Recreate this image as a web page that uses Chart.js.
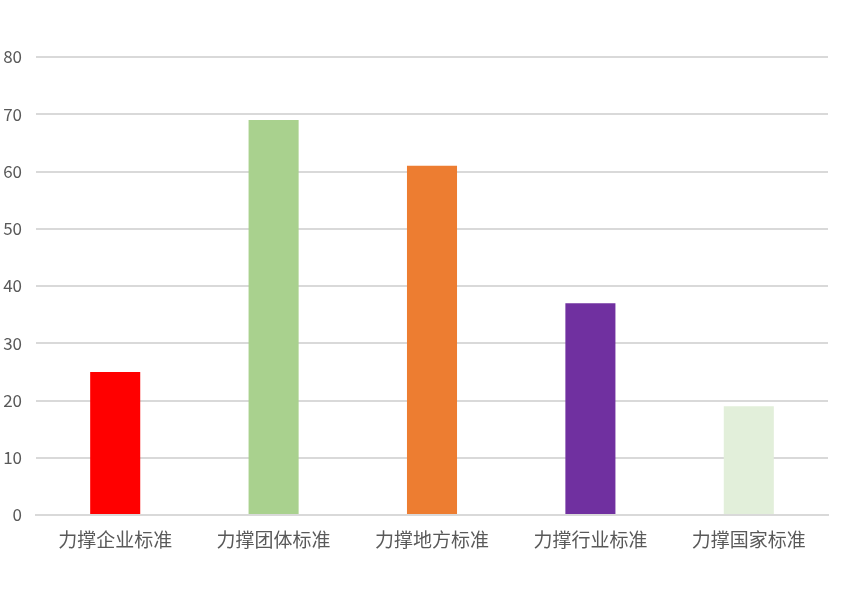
<!DOCTYPE html>
<html>
<head>
<meta charset="utf-8">
<script src="https://cdn.jsdelivr.net/npm/chart.js@4"></script>
<style>
  html, body { margin: 0; padding: 0; background: #ffffff; }
  #wrap { width: 842px; height: 604px; }
</style>
</head>
<body>
<div id="wrap"><canvas id="chart" width="842" height="604"></canvas></div>
<script>
// Chart data
const categories = ['力撑企业标准', '力撑团体标准', '力撑地方标准', '力撑行业标准', '力撑国家标准'];
const values = [25, 69, 61, 37, 19];
const barColors = ['#FF0000', '#A9D18E', '#ED7D31', '#7030A0', '#E2EFDA'];
const yTicks = [0, 10, 20, 30, 40, 50, 60, 70, 80];

const fontFamily = '"Microsoft YaHei", "Noto Sans CJK SC", sans-serif';

new Chart(document.getElementById('chart'), {
    type: 'bar',
    data: {
        labels: categories,
        datasets: [{
            data: values,
            backgroundColor: barColors,
            borderWidth: 0,
            categoryPercentage: 1,
            barPercentage: 0.316
        }]
    },
    options: {
        responsive: false,
        animation: false,
        layout: { padding: { top: 57, right: 14, left: 0, bottom: 0 } },
        plugins: {
            legend: { display: false },
            tooltip: { enabled: false }
        },
        scales: {
            x: {
                grid: { display: false },
                border: { color: '#D9D9D9', width: 2 },
                ticks: {
                    color: '#595959',
                    font: { size: 19, family: fontFamily },
                    padding: 5
                },
                afterFit: (scale) => { scale.height = 89; }
            },
            y: {
                min: 0,
                max: 80,
                afterBuildTicks: (scale) => { scale.ticks = yTicks.map(v => ({ value: v })); },
                grid: { color: '#D9D9D9', lineWidth: 2, drawTicks: false },
                border: { display: false },
                ticks: {
                    color: '#595959',
                    font: { size: 17, family: fontFamily },
                    padding: 14
                },
                afterFit: (scale) => { scale.width = 36; }
            }
        }
    }
});
</script>
</body>
</html>
